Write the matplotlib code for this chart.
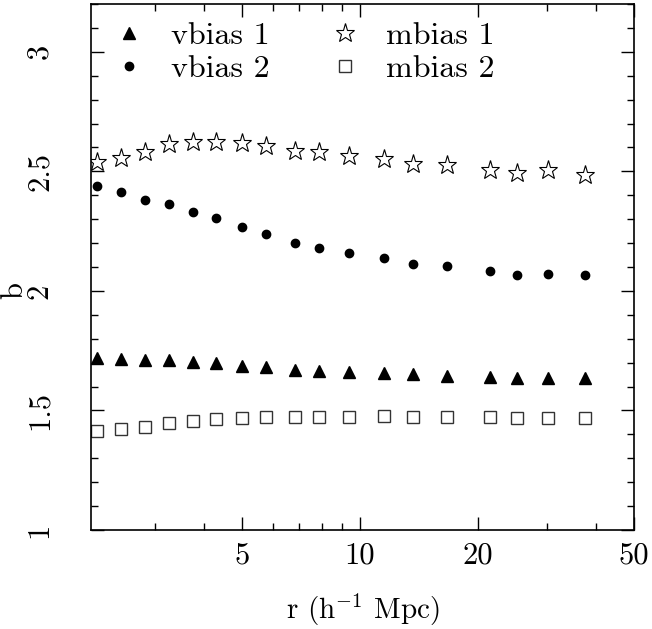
import matplotlib
matplotlib.use('Agg')
import matplotlib.pyplot as plt
import matplotlib.ticker as ticker

plt.rcParams['font.family'] = ['cmr10', 'DejaVu Serif']
plt.rcParams['mathtext.fontset'] = 'cm'
plt.rcParams['axes.formatter.use_mathtext'] = True

# Data ---------------------------------------------------
r = [2.13, 2.46, 2.83, 3.25, 3.74, 4.28, 5.00, 5.75, 6.82, 7.88, 9.36,
     11.5, 13.65, 16.67, 21.4, 25.1, 30.1, 37.5]
vbias1 = [1.720, 1.714, 1.711, 1.711, 1.704, 1.697, 1.687, 1.681, 1.669, 1.665,
          1.660, 1.656, 1.651, 1.646, 1.641, 1.636, 1.636, 1.637]
vbias2 = [2.439, 2.414, 2.382, 2.363, 2.331, 2.303, 2.267, 2.236, 2.200, 2.181,
          2.160, 2.138, 2.114, 2.106, 2.082, 2.066, 2.070, 2.066]
mbias1 = [2.539, 2.558, 2.579, 2.615, 2.621, 2.622, 2.618, 2.608, 2.587, 2.579,
          2.566, 2.552, 2.531, 2.527, 2.506, 2.492, 2.506, 2.485]
mbias2 = [1.415, 1.423, 1.432, 1.446, 1.456, 1.463, 1.467, 1.472, 1.472, 1.474,
          1.474, 1.477, 1.474, 1.474, 1.472, 1.470, 1.470, 1.467]

x_major = [5, 10, 20, 50]
x_minor = [3, 4, 6, 7, 8, 9, 30, 40]
y_major = [1, 1.5, 2, 2.5, 3]
y_labels = ['1', '1.5', '2', '2.5', '3']

# Plot ---------------------------------------------------
fig = plt.figure(figsize=(6.52, 6.29), dpi=100)
ax = fig.add_axes([0.1396, 0.1574, 0.8328, 0.8362])

ax.plot(r, vbias1, linestyle='none', marker='^', ms=9, color='black', label='vbias 1')
ax.plot(r, vbias2, linestyle='none', marker='o', ms=6, color='black', label='vbias 2')
ax.plot(r, mbias1, linestyle='none', marker='*', ms=14, mfc='white', mec='black',
        mew=0.8, label='mbias 1')
ax.plot(r, mbias2, linestyle='none', marker='s', ms=8.5, mfc='white', mec='#333333',
        mew=1.0, label='mbias 2')

ax.set_xscale('log')
ax.set_xlim(2.06, 50)
ax.set_ylim(1, 3.2)

ax.xaxis.set_major_locator(ticker.FixedLocator(x_major))
ax.xaxis.set_major_formatter(ticker.FixedFormatter([str(v) for v in x_major]))
ax.xaxis.set_minor_locator(ticker.FixedLocator(x_minor))
ax.xaxis.set_minor_formatter(ticker.NullFormatter())
ax.yaxis.set_major_locator(ticker.FixedLocator(y_major))
ax.yaxis.set_major_formatter(ticker.FixedFormatter(y_labels))
ax.yaxis.set_minor_locator(ticker.MultipleLocator(0.1))

ax.tick_params(which='both', direction='in', top=True, right=True, width=1.0,
               labelsize=22)
ax.tick_params(which='major', length=9.5)
ax.tick_params(which='minor', length=5)
ax.tick_params(axis='x', pad=9)
ax.tick_params(axis='y', pad=27, labelrotation=90)
for lab in ax.get_yticklabels():
    lab.set_verticalalignment('center')

for s in ax.spines.values():
    s.set_linewidth(1.2)

ax.set_xlabel(r'r (h$^{-1}$ Mpc)', fontsize=21, labelpad=16)
ax.set_ylabel('b', fontsize=22)
ax.yaxis.set_label_coords(-0.116, 0.455)

ax.legend(ncol=2, loc='upper left', frameon=False, fontsize=23, numpoints=1,
          borderaxespad=0.25, borderpad=0.3, handlelength=1.3, handletextpad=0.65,
          columnspacing=1.7, labelspacing=0.15)

fig.savefig('out.png', dpi=100)
